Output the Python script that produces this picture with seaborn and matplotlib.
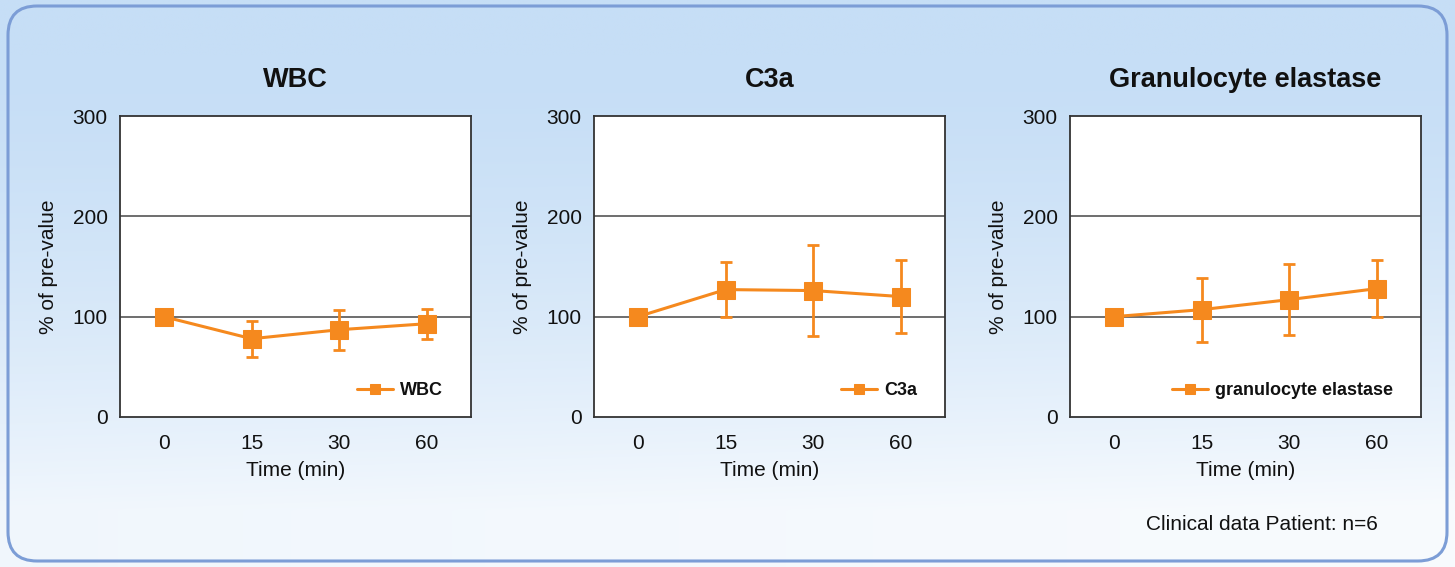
import numpy as np
import pandas as pd
import seaborn as sns
import matplotlib.pyplot as plt
from matplotlib.patches import FancyBboxPatch
from matplotlib.ticker import FixedLocator

# time points (categorical axis)
times = ['0', '15', '30', '60']

# % of pre-value, mean and SD
wbc_mean = [100, 78, 87, 93]
wbc_sd = [0, 18, 20, 15]
c3a_mean = [100, 127, 126, 120]
c3a_sd = [0, 27, 45, 36]
ela_mean = [100, 107, 117, 128]
ela_sd = [0, 32, 35, 28]

titles = ['WBC', 'C3a', 'Granulocyte elastase']
legend_names = ['WBC', 'C3a', 'granulocyte elastase']

sns.set_style('white')
plt.rcParams['font.family'] = ['Liberation Sans', 'DejaVu Sans']
plt.rcParams['text.color'] = '#111111'
plt.rcParams['axes.labelcolor'] = '#111111'
plt.rcParams['xtick.color'] = '#111111'
plt.rcParams['ytick.color'] = '#111111'

orange = '#F5891E'
W, H = 1455, 567
fig = plt.figure(figsize=(W / 100, H / 100), dpi=100)

# light blue background panel with rounded border
bg = fig.add_axes([0, 0, 1, 1], zorder=-10)
yy = np.linspace(0, 1, 300)[:, None]
xx = np.linspace(0, 1, 600)[None, :]
top = np.array([198, 222, 246]) / 255
bot = np.array([248, 251, 254]) / 255
t = np.clip((yy - 0.1) / 0.8, 0, 1) ** 1.5
t = np.clip(t * (0.85 + 0.15 * xx), 0, 1)
grad = top[None, None, :] * (1 - t[..., None]) + bot[None, None, :] * t[..., None]
bg.imshow(grad, extent=[0, 1, 0, 1], aspect='auto', origin='upper')
bg.add_patch(FancyBboxPatch((8 / W, 6 / H), 1 - 16 / W, 1 - 12 / H,
                            boxstyle='round,pad=0,rounding_size=0.02',
                            transform=bg.transAxes, fill=False,
                            edgecolor='#7C9DD6', lw=2.2,
                            mutation_aspect=W / H))
bg.set_xlim(0, 1)
bg.set_ylim(0, 1)
bg.axis('off')

lefts = [120, 594, 1070]
series = [(wbc_mean, wbc_sd), (c3a_mean, c3a_sd), (ela_mean, ela_sd)]

for left, (mean, sd), title, name in zip(lefts, series, titles, legend_names):
    ax = fig.add_axes([left / W, (H - 417) / H, 351 / W, 301 / H])
    ax.set_facecolor('white')
    pos = np.arange(len(times))
    df = pd.DataFrame({'pos': pos, 'value': mean, 'sd': sd})

    ax.errorbar(df['pos'], df['value'], yerr=df['sd'], fmt='none',
                ecolor=orange, elinewidth=2.0, capsize=4.5, capthick=2.0,
                zorder=3)
    sns.lineplot(data=df, x='pos', y='value', ax=ax, color=orange,
                 marker='s', markersize=12.5, markeredgecolor=orange,
                 linewidth=2.2, label=name, zorder=4)

    ax.set_xlim(-0.5, len(times) - 0.5)
    ax.set_ylim(0, 300)
    ax.set_xticks(pos)
    ax.set_xticklabels(times)
    ax.xaxis.set_minor_locator(FixedLocator(pos[:-1] + 0.5))
    ax.tick_params(axis='x', which='major', length=0, pad=12, labelsize=15)
    ax.tick_params(axis='x', which='minor', length=5, width=1.2,
                   direction='in', color='#333333')
    ax.set_yticks([0, 100, 200, 300])
    ax.tick_params(axis='y', length=0, pad=9, labelsize=15)
    for v in [100, 200]:
        ax.axhline(v, color='#555555', lw=1.2, zorder=1)
    for sp in ax.spines.values():
        sp.set_visible(True)
        sp.set_color('#333333')
        sp.set_linewidth(1.3)

    ax.set_xlabel('Time (min)', fontsize=15, labelpad=6)
    ax.set_ylabel('% of pre-value', fontsize=15, labelpad=10)
    ax.set_title(title, fontsize=19.5, fontweight='bold', pad=21)

    leg = ax.legend(loc='lower right', bbox_to_anchor=(0.972, 0.0),
                    frameon=False, markerscale=0.6,
                    handlelength=2.0, handletextpad=0.4,
                    prop={'size': 13, 'weight': 'bold'},
                    borderaxespad=0.6)

fig.text(1378 / W, 1 - 524 / H, 'Clinical data Patient: n=6',
         ha='right', va='center', fontsize=15)

fig.savefig('out.png', dpi=100)
